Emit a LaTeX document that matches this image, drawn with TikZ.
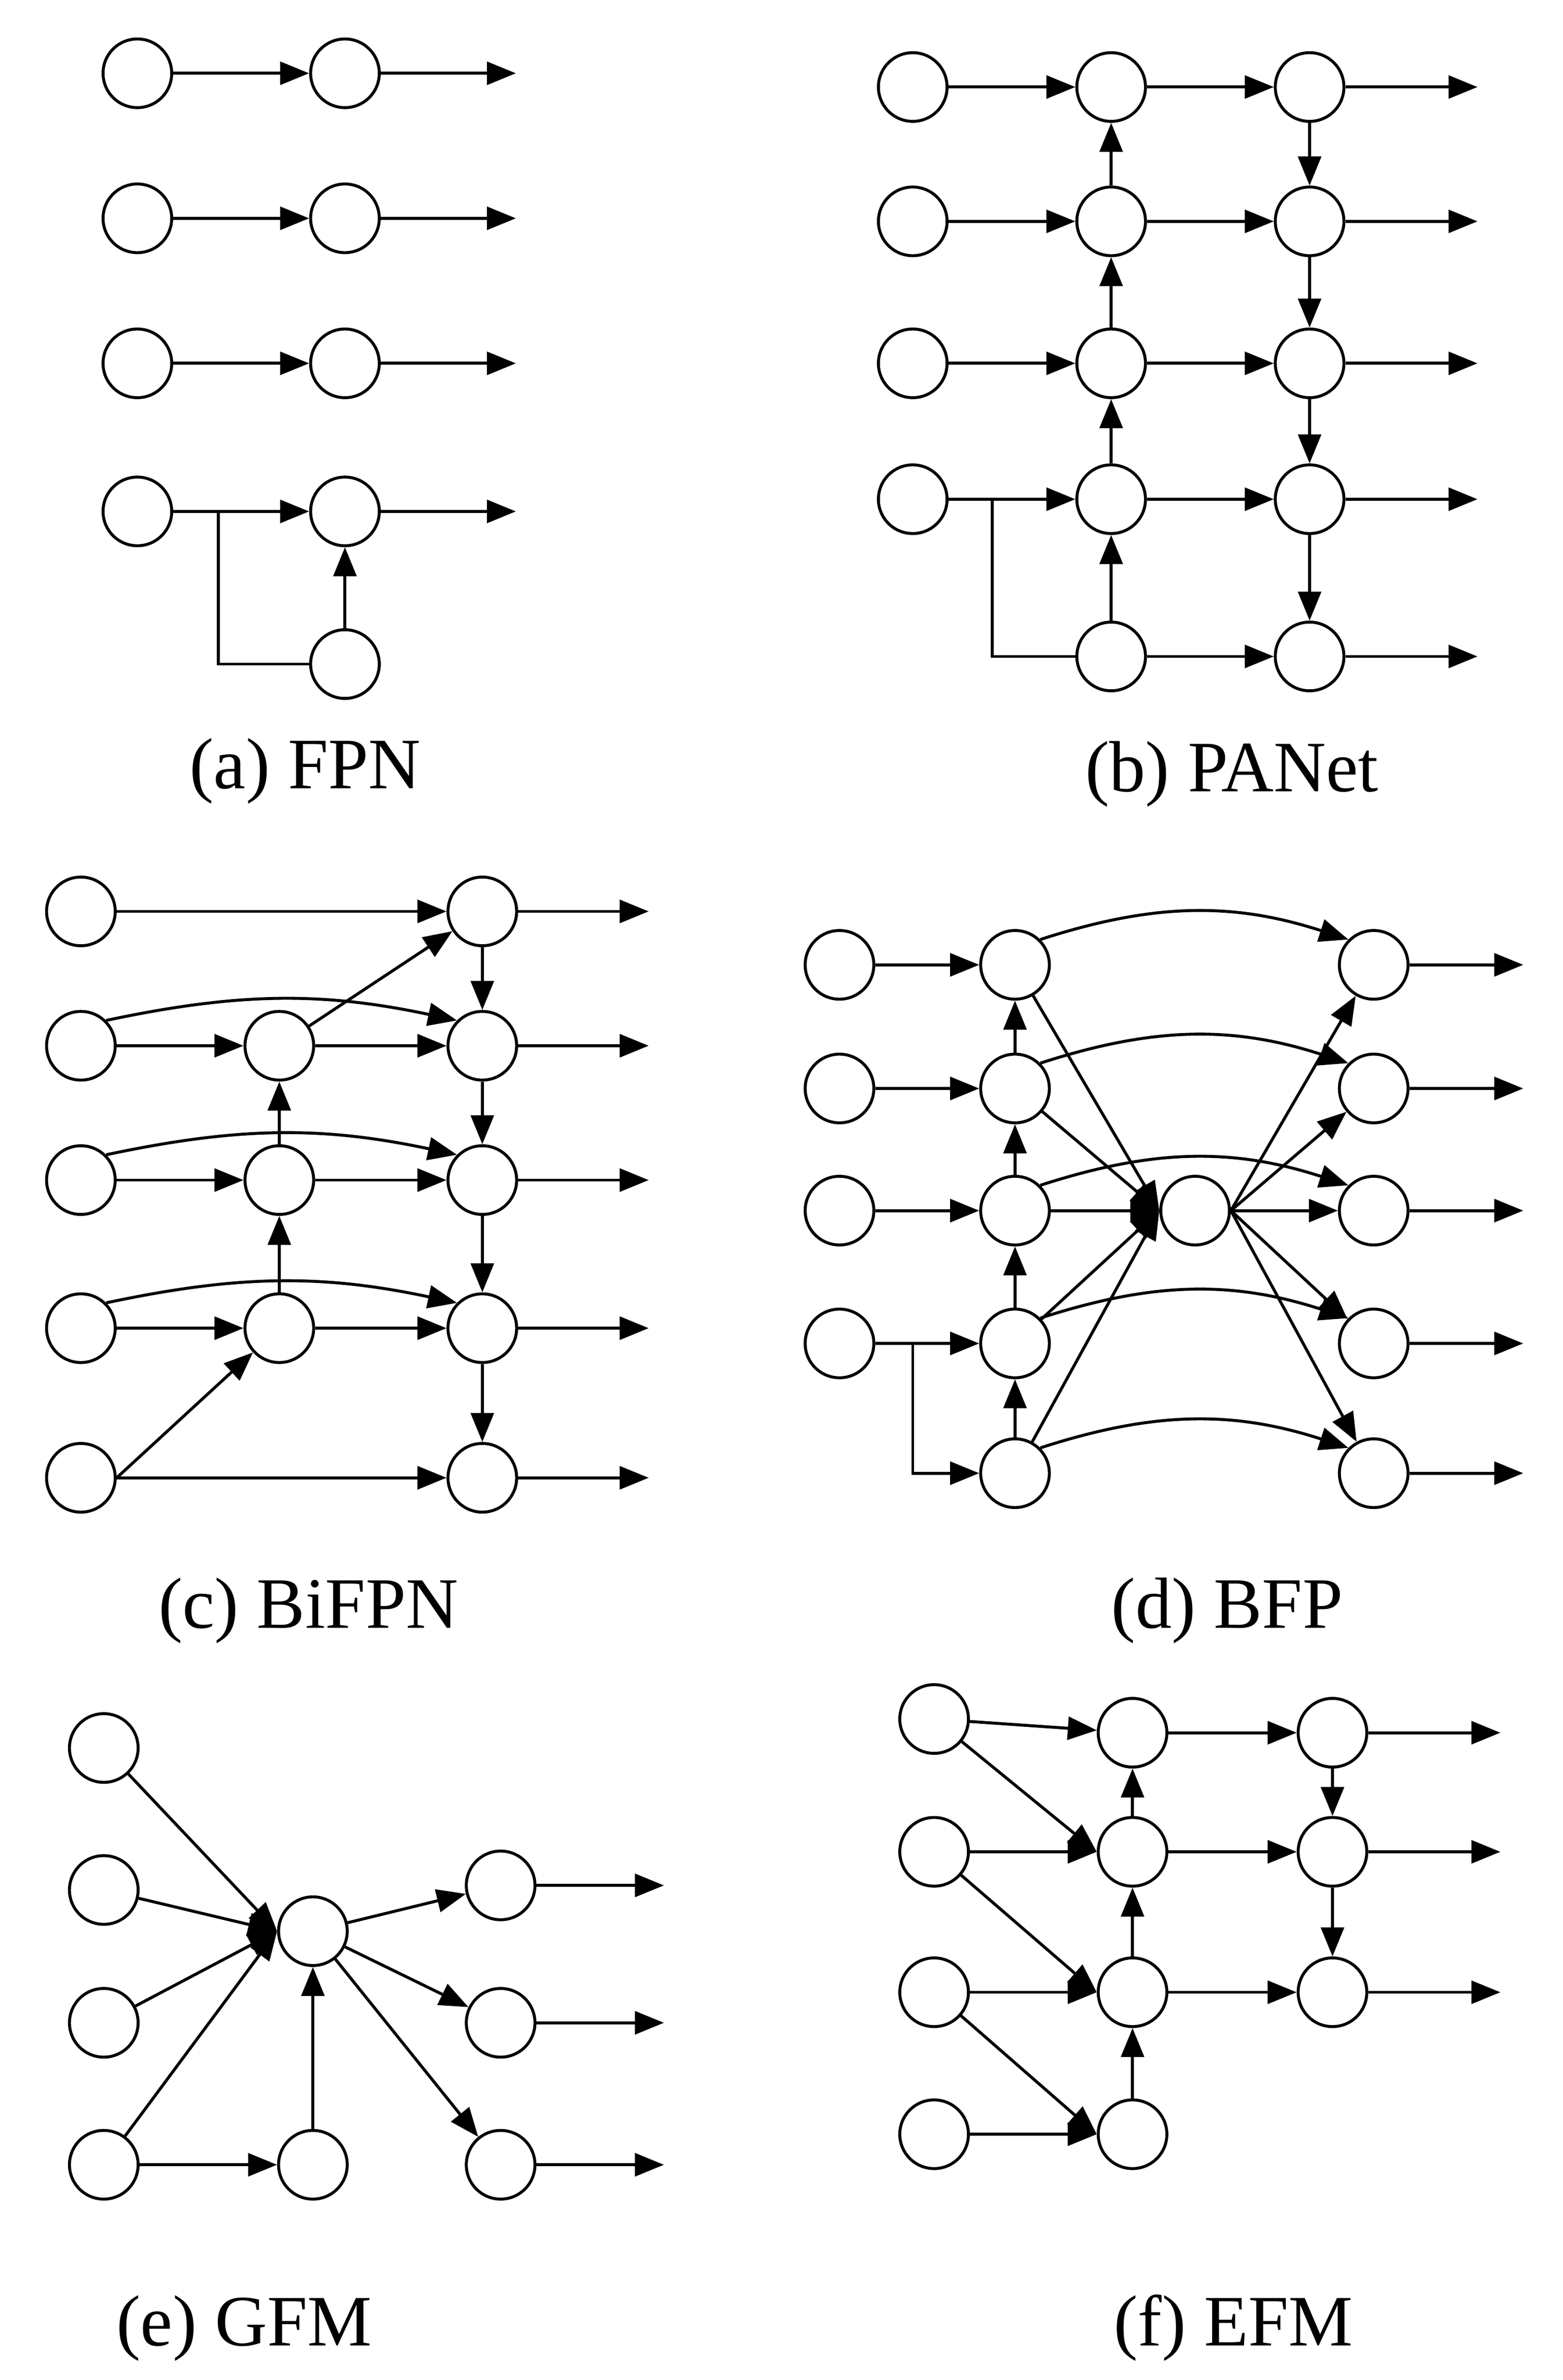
\documentclass[tikz,border=0pt]{standalone}
\usepackage{fontspec}
\setmainfont{Liberation Serif}
\usetikzlibrary{arrows.meta}
\begin{document}
\begin{tikzpicture}[x=0.02cm,y=-0.02cm,
  n/.style={circle,draw,line width=1.1pt,minimum size=0.9cm,inner sep=0pt,fill=white},
  a/.style={line width=1.1pt,-{Triangle[length=0.38cm,width=0.3cm]}},
  l/.style={line width=1.1pt},
  lbl/.style={font=\fontsize{27}{30}\selectfont}]
\useasboundingbox (0,0) rectangle (1024,1559);
% (a)
\foreach \i/\y in {1/48,2/143,3/238,4/335}{
  \node[n] (aL\i) at (90,\y) {};
  \node[n] (aR\i) at (226,\y) {};
  \coordinate (aE\i) at (338,\y);
  \draw[a] (aL\i) -- (aR\i);
  \draw[a] (aR\i) -- (aE\i);}
\node[n] (aB) at (226,435) {};
\coordinate (aK) at (143,335);
\draw[l] (aK) |- (aB);
\draw[a] (aB) -- (aR4);
\node[lbl] (capa) at (200,505) {(a) FPN};
% (b)
\foreach \i/\y in {1/57,2/145,3/238,4/327}{
  \node[n] (bL\i) at (598,\y) {};
  \node[n] (bM\i) at (728,\y) {};
  \node[n] (bR\i) at (858,\y) {};
  \coordinate (bE\i) at (968,\y);
  \draw[a] (bL\i) -- (bM\i);
  \draw[a] (bM\i) -- (bR\i);
  \draw[a] (bR\i) -- (bE\i);}
\node[n] (bM5) at (728,430) {};
\node[n] (bR5) at (858,430) {};
\coordinate (bE5) at (968,430);
\draw[a] (bM5) -- (bR5); \draw[a] (bR5) -- (bE5);
\coordinate (bK) at (650,327);
\draw[l] (bK) |- (bM5);
\draw[a] (bM5) -- (bM4); \draw[a] (bM4) -- (bM3); \draw[a] (bM3) -- (bM2); \draw[a] (bM2) -- (bM1);
\draw[a] (bR1) -- (bR2); \draw[a] (bR2) -- (bR3); \draw[a] (bR3) -- (bR4); \draw[a] (bR4) -- (bR5);
\node[lbl] (capb) at (807,507) {(b) PANet};
% (c)
\foreach \i/\y in {1/597,2/685,3/773,4/870,5/968}{
  \node[n] (cL\i) at (53,\y) {};
  \node[n] (cR\i) at (316,\y) {};
  \coordinate (cE\i) at (425,\y);
  \draw[a] (cR\i) -- (cE\i);}
\foreach \i/\y in {2/685,3/773,4/870}{
  \node[n] (cM\i) at (183,\y) {};
  \draw[a] (cL\i) -- (cM\i);
  \draw[a] (cM\i) -- (cR\i);
  \draw[a] (cL\i.north east) to[bend left=12] (cR\i.north west);}
\draw[a] (cL1) -- (cR1);
\draw[a] (cL5) -- (cR5);
\draw[a] (cL5.east) -- (cM4);
\draw[a] (cM2) -- (cR1);
\draw[a] (cM4) -- (cM3); \draw[a] (cM3) -- (cM2);
\draw[a] (cR1) -- (cR2); \draw[a] (cR2) -- (cR3); \draw[a] (cR3) -- (cR4); \draw[a] (cR4) -- (cR5);
\node[lbl] (capc) at (202,1055) {(c) BiFPN};
% (d)
\node[n] (dC) at (783,793) {};
\foreach \i/\y in {1/632,2/713,3/793,4/880,5/965}{
  \node[n] (dM\i) at (665,\y) {};
  \node[n] (dR\i) at (900,\y) {};
  \coordinate (dE\i) at (998,\y);
  \draw[a] (dR\i) -- (dE\i);
  \draw[a] (dM\i) -- (dC.west);
  \draw[a] (dC.east) -- (dR\i);
  \draw[a] (dM\i.north east) to[bend left=18] (dR\i.north west);}
\foreach \i/\y in {1/632,2/713,3/793,4/880}{
  \node[n] (dL\i) at (550,\y) {};
  \draw[a] (dL\i) -- (dM\i);}
\coordinate (dK) at (598,880);
\draw[a] (dK) |- (dM5);
\draw[a] (dM5) -- (dM4); \draw[a] (dM4) -- (dM3); \draw[a] (dM3) -- (dM2); \draw[a] (dM2) -- (dM1);
\node[lbl] (capd) at (804,1055) {(d) BFP};
% (e)
\node[n] (eC) at (205,1265) {};
\node[n] (eB) at (205,1418) {};
\foreach \i/\y in {1/1145,2/1238,3/1325,4/1418}{
  \node[n] (eL\i) at (68,\y) {};
  \draw[a] (eL\i) -- (eC.west);}
\foreach \i/\y in {1/1235,2/1325,3/1418}{
  \node[n] (eR\i) at (328,\y) {};
  \coordinate (eE\i) at (435,\y);
  \draw[a] (eC) -- (eR\i);
  \draw[a] (eR\i) -- (eE\i);}
\draw[a] (eL4) -- (eB);
\draw[a] (eB) -- (eC);
\node[lbl] (cape) at (160,1525) {(e) GFM};
% (f)
\node[n] (fL1) at (612,1126) {};
\node[n] (fL2) at (612,1213) {};
\node[n] (fL3) at (612,1305) {};
\node[n] (fL4) at (612,1398) {};
\node[n] (fM1) at (742,1135) {};
\node[n] (fM2) at (742,1213) {};
\node[n] (fM3) at (742,1305) {};
\node[n] (fM4) at (742,1398) {};
\foreach \i/\y in {1/1135,2/1213,3/1305}{
  \node[n] (fR\i) at (873,\y) {};
  \coordinate (fE\i) at (983,\y);
  \draw[a] (fM\i) -- (fR\i);
  \draw[a] (fR\i) -- (fE\i);}
\draw[a] (fL1) -- (fM1); \draw[a] (fL2) -- (fM2); \draw[a] (fL3) -- (fM3); \draw[a] (fL4) -- (fM4);
\draw[a] (fL1) -- (fM2.west); \draw[a] (fL2) -- (fM3.west); \draw[a] (fL3) -- (fM4.west);
\draw[a] (fM4) -- (fM3); \draw[a] (fM3) -- (fM2); \draw[a] (fM2) -- (fM1);
\draw[a] (fR1) -- (fR2); \draw[a] (fR2) -- (fR3);
\node[lbl] (capf) at (808,1525) {(f) EFM};
\end{tikzpicture}
\end{document}
